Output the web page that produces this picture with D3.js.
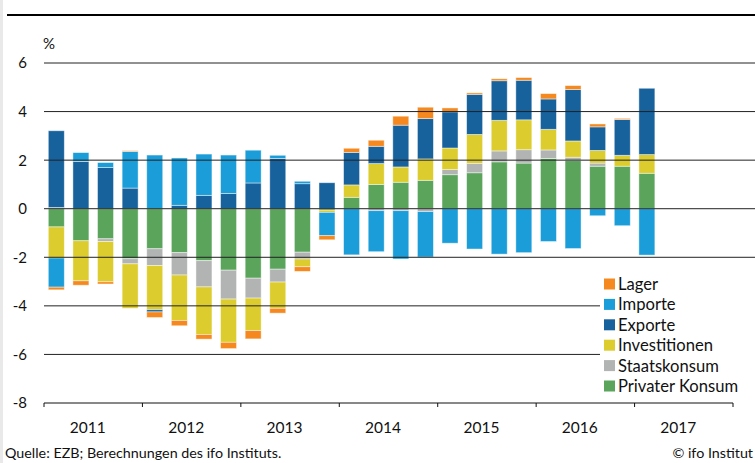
<!DOCTYPE html>
<html>
<head>
<meta charset="utf-8">
<script src="https://cdn.jsdelivr.net/npm/d3@7"></script>
<style>
  html, body { margin: 0; padding: 0; background: #fff; }
  svg { display: block; font-family: Lato, "Noto Sans", sans-serif; }
</style>
</head>
<body>
<div id="diagram"></div>
<script>
// data
const years = [2011, 2012, 2013, 2014, 2015, 2016, 2017];
const quarters = years.flatMap(y => ['Q1', 'Q2', 'Q3', 'Q4'].map(q => y + q));
const yTicks = [6, 4, 2, 0, -2, -4, -6, -8];

const seriesNames = ['Privater Konsum', 'Staatskonsum', 'Investitionen', 'Exporte', 'Importe', 'Lager'];
const privaterKonsum = [-0.75, -1.32, -1.24, -2.06, -1.65, -1.81, -2.14, -2.53, -2.86, -2.49, -1.79, -0.06, 0.47, 1.00, 1.09, 1.17, 1.40, 1.48, 1.93, 1.88, 2.07, 1.98, 1.75, 1.75, 1.46];
const staatskonsum = [0.05, 0, -0.11, -0.21, -0.69, -0.92, -1.08, -1.19, -0.82, -0.53, -0.28, 0, 0, -0.08, -0.08, -0.12, 0.21, 0.39, 0.45, 0.55, 0.35, 0.14, 0.13, 0, 0];
const investitionen = [-1.28, -1.65, -1.66, -1.83, -1.82, -1.87, -1.96, -1.78, -1.34, -1.08, -0.32, -0.09, 0.51, 0.86, 0.63, 0.88, 0.89, 1.19, 1.26, 1.23, 0.85, 0.67, 0.52, 0.45, 0.77];
const exporte = [3.16, 1.95, 1.70, 0.85, -0.09, 0.14, 0.55, 0.63, 1.06, 2.07, 1.03, 1.07, 1.34, 0.71, 1.72, 1.66, 1.49, 1.65, 1.63, 1.63, 1.25, 2.12, 0.97, 1.47, 2.73];
const importe = [-1.20, 0.36, 0.20, 1.51, 2.21, 1.95, 1.70, 1.58, 1.35, 0.13, 0.10, -0.96, -1.90, -1.69, -1.99, -1.87, -1.42, -1.66, -1.87, -1.81, -1.35, -1.64, -0.29, -0.70, -1.91];
const lager = [-0.11, -0.18, -0.09, 0.03, -0.23, -0.22, -0.19, -0.26, -0.34, -0.20, -0.19, -0.17, 0.17, 0.25, 0.37, 0.47, 0.16, 0.06, 0.08, 0.11, 0.22, 0.16, 0.12, 0.05, 0];

!(function () {
  'use strict';

  let
    canvas = undefined,
    svg = undefined,
    x = undefined,
    xYear = undefined,
    y = undefined,
    color = undefined,
    rows = undefined,

    setCanvas = undefined,
    setScales = undefined,
    setBars = undefined,
    setGrid = undefined,
    setAxis = undefined,
    setLegend = undefined,
    setTexts = undefined;

  canvas = {
    width: 755,
    height: 463,
    plot: { left: 44, right: 733, top: 63, bottom: 403 }
  };

  color = d3.scaleOrdinal()
    .domain(seriesNames)
    .range(['#5aa45c', '#b2b4b4', '#dccc2e', '#17629d', '#1b9dd9', '#f5891f']);

  // one row per quarter with values
  rows = privaterKonsum.map(function (d, i) {
    return {
      quarter: quarters[i],
      'Privater Konsum': privaterKonsum[i],
      'Staatskonsum': staatskonsum[i],
      'Investitionen': investitionen[i],
      'Exporte': exporte[i],
      'Importe': importe[i],
      'Lager': lager[i]
    };
  });

  setCanvas = function (contextSelector) {
    svg = d3.select(contextSelector)
      .append('svg')
      .attr('width', canvas.width)
      .attr('height', canvas.height);

    svg.append('rect')
      .attr('x', 0).attr('y', 0)
      .attr('width', 3).attr('height', canvas.height)
      .attr('fill', '#e9e9e9');

    svg.append('line')
      .attr('x1', 7).attr('x2', canvas.width)
      .attr('y1', 15).attr('y2', 15)
      .attr('stroke', '#000')
      .attr('stroke-width', 2);
  };

  setScales = function () {
    x = d3.scaleBand()
      .domain(quarters)
      .range([canvas.plot.left, canvas.plot.right])
      .paddingInner(0.35)
      .paddingOuter(0.175);

    xYear = d3.scaleBand()
      .domain(years)
      .range([canvas.plot.left, canvas.plot.right]);

    y = d3.scaleLinear()
      .domain([-8, 6])
      .range([canvas.plot.bottom, canvas.plot.top]);
  };

  setBars = function () {
    let stacked = d3.stack()
      .keys(seriesNames)
      .offset(d3.stackOffsetDiverging)(rows);

    svg.append('g')
      .selectAll('g')
      .data(stacked)
      .enter()
      .append('g')
      .attr('fill', function (d) { return color(d.key); })
      .selectAll('rect')
      .data(function (d) { return d; })
      .enter()
      .append('rect')
      .attr('x', function (d) { return x(d.data.quarter); })
      .attr('width', x.bandwidth())
      .attr('y', function (d) { return y(Math.max(d[0], d[1])); })
      .attr('height', function (d) { return Math.abs(y(d[0]) - y(d[1])); })
      .attr('stroke', 'rgba(255,255,255,0.55)')
      .attr('stroke-width', 0.8);
  };

  setGrid = function () {
    // gridlines sit on top of the bars
    svg.append('g')
      .selectAll('line')
      .data(yTicks.filter(function (d) { return d > -8; }))
      .enter()
      .append('line')
      .attr('x1', canvas.plot.left)
      .attr('x2', canvas.width)
      .attr('y1', function (d) { return y(d); })
      .attr('y2', function (d) { return y(d); })
      .attr('stroke', '#222')
      .attr('stroke-width', 1);

    svg.append('g')
      .selectAll('text')
      .data(yTicks)
      .enter()
      .append('text')
      .attr('x', 27)
      .attr('y', function (d) { return y(d); })
      .attr('dy', '0.36em')
      .attr('text-anchor', 'end')
      .attr('font-size', 15)
      .attr('fill', '#111')
      .text(function (d) { return d; });

    svg.append('text')
      .attr('x', 43)
      .attr('y', 49)
      .attr('font-size', 15)
      .attr('fill', '#111')
      .text('%');
  };

  setAxis = function () {
    let axis = svg.append('g')
      .attr('transform', 'translate(0,' + canvas.plot.bottom + ')');

    axis.append('line')
      .attr('x1', canvas.plot.left)
      .attr('x2', canvas.plot.right)
      .attr('stroke', '#111')
      .attr('stroke-width', 1);

    axis.selectAll('line.tick')
      .data(years.map(function (d) { return xYear(d); }).concat([canvas.plot.right]))
      .enter()
      .append('line')
      .attr('class', 'tick')
      .attr('x1', function (d) { return d; })
      .attr('x2', function (d) { return d; })
      .attr('y1', 0)
      .attr('y2', 4)
      .attr('stroke', '#111');

    axis.selectAll('text')
      .data(years)
      .enter()
      .append('text')
      .attr('x', function (d) { return xYear(d) + xYear.bandwidth() / 2 - 5.5; })
      .attr('y', 30)
      .attr('text-anchor', 'middle')
      .attr('font-size', 15.5)
      .attr('fill', '#111')
      .text(function (d) { return d; });
  };

  setLegend = function () {
    let legend = svg.append('g');

    legend.append('rect')
      .attr('x', 600).attr('y', 273)
      .attr('width', 155).attr('height', 124)
      .attr('fill', '#fff');

    let items = legend.selectAll('g')
      .data(seriesNames.slice().reverse())
      .enter()
      .append('g')
      .attr('transform', function (d, i) { return 'translate(604,' + (284 + i * 20.4) + ')'; });

    items.append('rect')
      .attr('x', 0).attr('y', -5.5)
      .attr('width', 11).attr('height', 11)
      .attr('fill', function (d) { return color(d); });

    items.append('text')
      .attr('x', 14)
      .attr('dy', '0.36em')
      .attr('font-size', 16.6)
      .attr('fill', '#111')
      .text(function (d) { return d; });
  };

  setTexts = function () {
    svg.append('text')
      .attr('x', 5)
      .attr('y', 458)
      .attr('font-size', 14.3)
      .attr('fill', '#111')
      .text('Quelle: EZB; Berechnungen des ifo Instituts.');

    svg.append('text')
      .attr('x', 753)
      .attr('y', 458)
      .attr('text-anchor', 'end')
      .attr('font-size', 14.3)
      .attr('fill', '#111')
      .text('\u00a9 ifo Institut');
  };

  // control
  setCanvas('#diagram');
  setScales();
  setBars();
  setGrid();
  setAxis();
  setLegend();
  setTexts();
}());
</script>
</body>
</html>
